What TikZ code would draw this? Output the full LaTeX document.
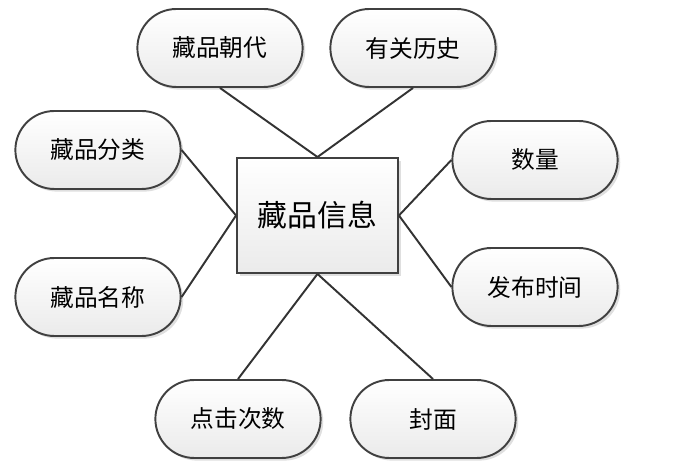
\documentclass[tikz,border=0pt]{standalone}
\usepackage{fontspec}
\setmainfont{Noto Sans CJK SC}
\usetikzlibrary{shapes,shadows}

\begin{document}
\begin{tikzpicture}[x=0.02cm, y=-0.02cm,
    attr/.style={rounded rectangle, draw=black!75, line width=1.1pt,
        top color=white, bottom color=black!8,
        minimum width=3.54cm, minimum height=1.56cm,
        font=\fontsize{13.5}{16}\selectfont,
        drop shadow={opacity=0.25, shadow xshift=1.5pt, shadow yshift=-1.5pt}},
    entity/.style={rectangle, draw=black!75, line width=1.1pt,
        top color=white, bottom color=black!8,
        minimum width=3.22cm, minimum height=2.3cm,
        font=\fontsize{17}{20}\selectfont,
        drop shadow={opacity=0.25, shadow xshift=1.5pt, shadow yshift=-1.5pt}},
    link/.style={draw=black!80, line width=1.1pt}]
    \useasboundingbox (0,0) rectangle (684,472);

    % Entity
    \node[entity] (info) at (317.5,215.5) {藏品信息};

    % Attributes
    \node[attr] (dynasty) at (220,48) {藏品朝代};
    \node[attr] (history) at (413,48) {有关历史};
    \node[attr] (category) at (98,150) {藏品分类};
    \node[attr] (name) at (98,297) {藏品名称};
    \node[attr] (amount) at (535,160) {数量};
    \node[attr] (pubtime) at (535,287) {发布时间};
    \node[attr] (clicks) at (238,419) {点击次数};
    \node[attr] (cover) at (433,419) {封面};

    % Links
    \draw[link] (dynasty.south) -- (info.north);
    \draw[link] (history.south) -- (info.north);
    \draw[link] (category.east) -- (info.west);
    \draw[link] (name.east) -- (info.west);
    \draw[link] (amount.west) -- (info.east);
    \draw[link] (pubtime.west) -- (info.east);
    \draw[link] (clicks.north) -- (info.south);
    \draw[link] (cover.north) -- (info.south);
\end{tikzpicture}
\end{document}
